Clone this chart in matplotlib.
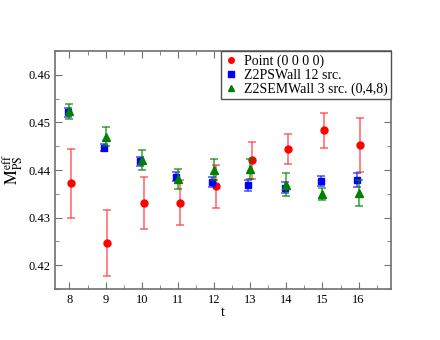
import numpy as np
import matplotlib
matplotlib.use('Agg')
import matplotlib.pyplot as plt
from matplotlib.ticker import MultipleLocator

plt.rcParams['font.family'] = ['Liberation Serif', 'DejaVu Serif']
plt.rcParams['mathtext.fontset'] = 'stix'

t = np.arange(8, 17)

point_y = [0.4372, 0.4246, 0.4331, 0.4331, 0.4366, 0.4420, 0.4444, 0.4483, 0.4452]
point_err = [0.0072, 0.0069, 0.0055, 0.0047, 0.0045, 0.0038, 0.0031, 0.0036, 0.0057]

pswall_y = [0.4521, 0.4447, 0.4418, 0.4386, 0.4375, 0.4368, 0.4363, 0.4377, 0.4379]
pswall_err = [0.0010, 0.0008, 0.0010, 0.0010, 0.0010, 0.0012, 0.0012, 0.0011, 0.0015]

semwall_y = [0.4523, 0.4470, 0.4421, 0.4381, 0.4401, 0.4402, 0.4369, 0.4349, 0.4351]
semwall_err = [0.0015, 0.0020, 0.0020, 0.0021, 0.0023, 0.0021, 0.0024, 0.0013, 0.0027]

labels = ['Point (0 0 0 0)', 'Z2PSWall 12 src.', 'Z2SEMWall 3 src. (0,4,8)']

fig = plt.figure(figsize=(4.4, 3.4), dpi=100)
ax = fig.add_axes([0.125, 0.15, 0.764, 0.70])

series = [
    (t + 0.05, point_y, point_err, 'o', 'red', (1, 0.2, 0.2, 0.7), 5),
    (t - 0.05, pswall_y, pswall_err, 's', 'blue', (0.1, 0.1, 1, 0.7), 5),
    (t, semwall_y, semwall_err, '^', 'green', (0, 0.5, 0, 0.7), 6),
]
for (x, y, e, m, c, ec, ms), lab in zip(series, labels):
    ax.errorbar(x, y, yerr=e, fmt='none', ecolor=ec, elinewidth=1.2,
                capsize=3, capthick=1.2)
    ax.plot(x, y, m, color=c, ms=ms, linestyle='none', label=lab)

ax.set_xlim(7.6, 16.9)
ax.set_ylim(0.415, 0.465)
ax.xaxis.set_major_locator(MultipleLocator(1))
ax.xaxis.set_minor_locator(MultipleLocator(0.5))
ax.yaxis.set_major_locator(MultipleLocator(0.01))
ax.yaxis.set_minor_locator(MultipleLocator(0.005))
ax.tick_params(which='both', direction='in', top=True, right=True, color='#707070',
               labelsize=9)
ax.tick_params(which='major', length=5)
ax.tick_params(which='minor', length=3)
for s in ax.spines.values():
    s.set_color('#707070')
    s.set_linewidth(1.2)

ax.set_xlabel('t', fontsize=10, labelpad=0)
ax.set_ylabel(r'$\mathrm{M_{PS}^{eff}}$', fontsize=12, labelpad=2)

leg = ax.legend(loc='upper right', fontsize=10, handletextpad=0.4, borderaxespad=0,
                fancybox=False, framealpha=1, edgecolor='#505050',
                borderpad=0.25, labelspacing=0.05, handlelength=1.0, markerscale=0.8)
leg.get_frame().set_linewidth(1.0)

fig.savefig('out.png', dpi=100)
